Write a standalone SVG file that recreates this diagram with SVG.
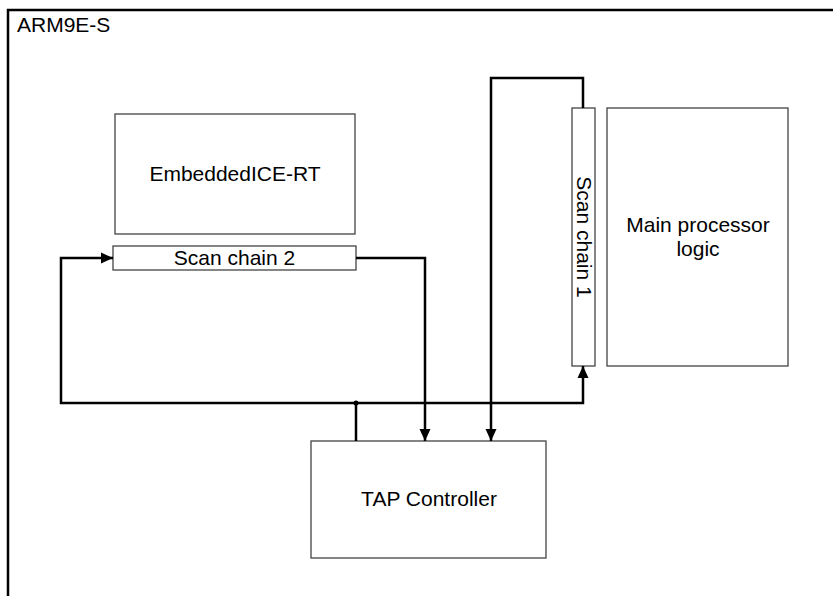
<svg xmlns="http://www.w3.org/2000/svg" width="833" height="596" viewBox="0 0 833 596">
<style>
.box{fill:#fff;stroke:#444;stroke-width:1.3}
.lbl{font-family:"Liberation Sans",Arial,sans-serif;font-size:21px;fill:#000}
.wire{fill:none;stroke:#000;stroke-width:2.5}
</style>
<defs>
<marker id="arr" markerUnits="userSpaceOnUse" markerWidth="13" markerHeight="13" viewBox="0 0 13 13" refX="12" refY="6.5" orient="auto">
<path d="M0,1 L12,6.5 L0,12 z" fill="#000"/>
</marker>
</defs>
<rect width="833" height="596" fill="#fff"/>
<g id="frame">
<path d="M8,596 V10 H833" fill="none" stroke="#000" stroke-width="2.5"/>
<text class="lbl" x="17" y="32">ARM9E-S</text>
</g>
<g id="embeddedice">
<rect class="box" x="115" y="114" width="240" height="120"/>
<text class="lbl" x="235" y="181" text-anchor="middle">EmbeddedICE-RT</text>
</g>
<g id="scanchain2">
<rect class="box" x="113" y="246" width="243" height="24"/>
<text class="lbl" x="234.5" y="265" text-anchor="middle">Scan chain 2</text>
</g>
<g id="scanchain1">
<rect class="box" x="572" y="108" width="23" height="258"/>
<text class="lbl" text-anchor="middle" transform="translate(576.5,237) rotate(90)">Scan chain 1</text>
</g>
<g id="mainlogic">
<rect class="box" x="607" y="108" width="181" height="258"/>
<text class="lbl" x="698" y="232" text-anchor="middle">Main processor</text>
<text class="lbl" x="698" y="256" text-anchor="middle">logic</text>
</g>
<g id="tap">
<rect class="box" x="311" y="441" width="235" height="117"/>
<text class="lbl" x="429" y="506" text-anchor="middle">TAP Controller</text>
</g>
<g id="connectors">
<path class="wire" d="M356,441 V403"/>
<path class="wire" d="M356,403 H61 V258 H113" marker-end="url(#arr)"/>
<path class="wire" d="M356,403 H583 V366" marker-end="url(#arr)"/>
<path class="wire" d="M356,258 H425 V441" marker-end="url(#arr)"/>
<path class="wire" d="M583,108 V78 H491 V441" marker-end="url(#arr)"/>
<circle cx="356" cy="403" r="2.5" fill="#000"/>
</g>
</svg>
